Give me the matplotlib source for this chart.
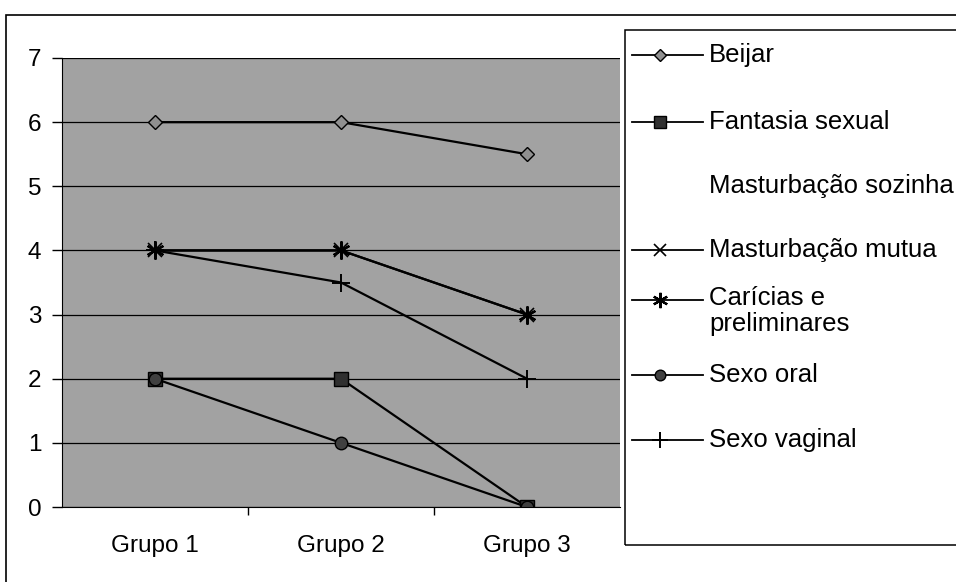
import numpy as np
import matplotlib.pyplot as plt
from matplotlib.patches import Rectangle
from matplotlib.lines import Line2D

plt.rcParams['font.family'] = ['Liberation Sans', 'DejaVu Sans']

grupos = ["Grupo 1", "Grupo 2", "Grupo 3"]
beijar = [6, 6, 5.5]
fantasia = [2, 2, 0]
mast_sozinha = [np.nan, np.nan, np.nan]
mast_mutua = [4, 4, 3]
caricias = [4, 4, 3]
sexo_oral = [2, 1, 0]
sexo_vaginal = [4, 3.5, 2]

series = [
    ("Beijar", beijar, dict(marker='D', ms=7, mfc='#909090', mec='black')),
    ("Fantasia sexual", fantasia, dict(marker='s', ms=10, mfc='#303030', mec='black')),
    ("Masturbação sozinha", mast_sozinha, dict(color='none', lw=0)),
    ("Masturbação mutua", mast_mutua, dict(marker='x', ms=10, mew=1.2)),
    ("Carícias e\npreliminares", caricias, dict(marker=(6, 2, 0), ms=13, mew=1.6)),
    ("Sexo oral", sexo_oral, dict(marker='o', ms=9, mfc='#404040', mec='black')),
    ("Sexo vaginal", sexo_vaginal, dict(marker='+', ms=13, mew=1.4)),
]

W, H = 956, 582
fig = plt.figure(figsize=(W/100, H/100), dpi=100)
ax = fig.add_axes([62/W, 1-507/H, (620-62)/W, (507-58)/H])
ax.set_facecolor('#a2a2a2')
x = np.arange(len(grupos))

for name, vals, st in series:
    kw = dict(color='black', lw=1.6)
    kw.update(st)
    ax.plot(x, vals, label=name, **kw)

ax.set_xlim(-0.5, 2.5)
ax.set_ylim(0, 7)
ax.set_yticks(range(8))
ax.yaxis.grid(True, color='black', lw=0.9)
ax.set_axisbelow(True)
ax.set_xticks(x)
ax.set_xticklabels(grupos)
ax.set_xticks([0.5, 1.5], minor=True)
ax.tick_params(axis='x', which='major', length=0, pad=20, labelsize=17.5)
ax.tick_params(axis='x', which='minor', length=6, width=1, direction='out')
ax.tick_params(axis='y', length=7, width=1, labelsize=17.5, pad=8)
for s in ['top', 'right']:
    ax.spines[s].set_visible(False)

# legend box, drawn by hand to follow the original row positions
fig.patches.append(Rectangle((625/W, 1-545/H), 1.0, (545-30)/H, transform=fig.transFigure,
                             fill=False, edgecolor='black', lw=1.1))
rows = [55, 122, 186, 250, 300, 375, 440]
for (name, vals, st), yy in zip(series, rows):
    kw = dict(color='black', lw=1.3)
    kw.update(st)
    if 'ms' in kw:
        kw['ms'] = kw['ms'] * 0.85
    fy = 1 - yy/H
    fig.add_artist(Line2D([632/W, 660/W, 703/W], [fy, fy, fy], markevery=[1],
                          transform=fig.transFigure, **kw))
    if '\n' in name:
        fig.text(709/W, 1-(yy-14)/H, name, fontsize=18.5, va='top', ha='left', linespacing=1.12)
    else:
        fig.text(709/W, fy, name, fontsize=18.5, va='center', ha='left')

# outer chart border
fig.patches.append(Rectangle((6/W, -0.01), 1.0, 1-15/H + 0.01, transform=fig.transFigure,
                             fill=False, edgecolor='black', lw=1.2))

fig.savefig('out.png', dpi=100)
